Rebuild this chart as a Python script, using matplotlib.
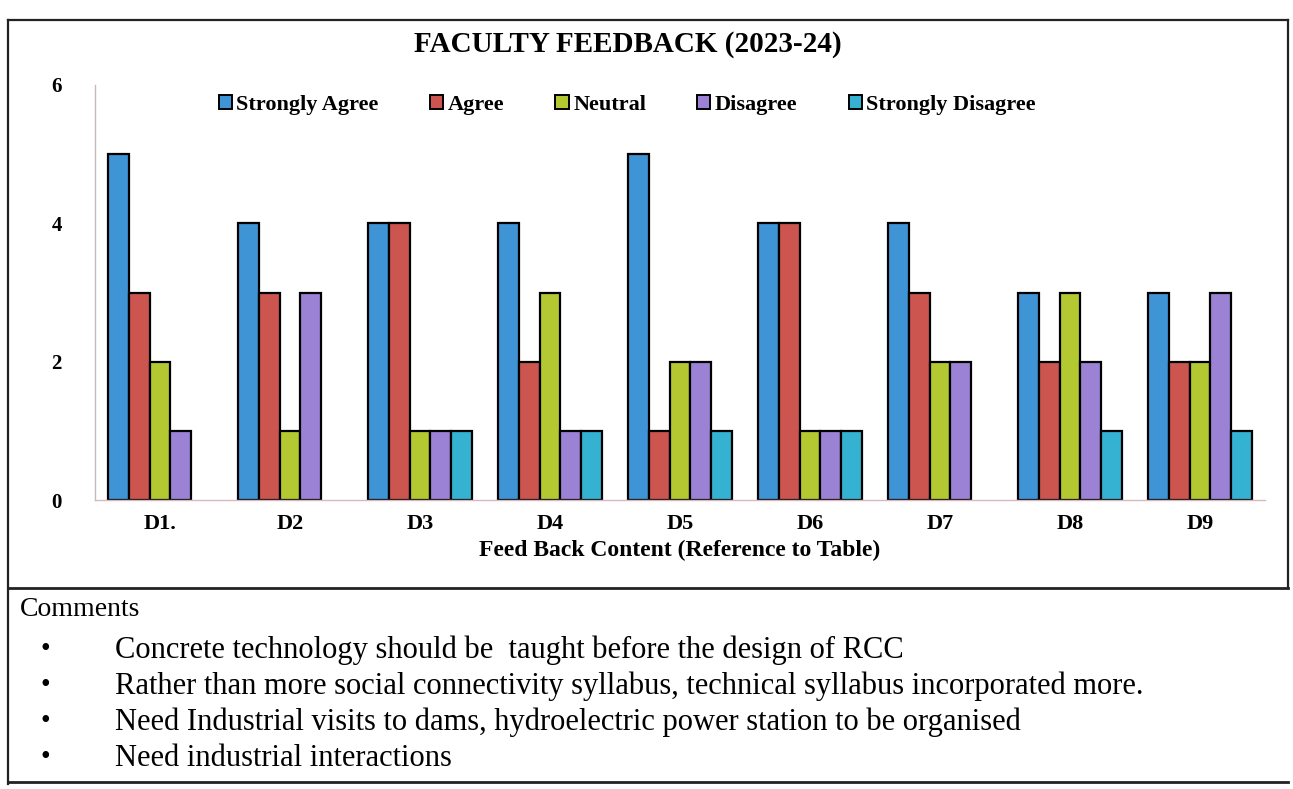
import numpy as np
import matplotlib
matplotlib.use("Agg")
import matplotlib.pyplot as plt
from matplotlib.lines import Line2D
from matplotlib.patches import Patch

# values
categories = ["D1.", "D2", "D3", "D4", "D5", "D6", "D7", "D8", "D9"]
strongly_agree = [5, 4, 4, 4, 5, 4, 4, 3, 3]
agree = [3, 3, 4, 2, 1, 4, 3, 2, 2]
neutral = [2, 1, 1, 3, 2, 1, 2, 3, 2]
disagree = [1, 3, 1, 1, 2, 1, 2, 2, 3]
strongly_disagree = [0, 0, 1, 1, 1, 1, 0, 1, 1]

series_names = ["Strongly Agree", "Agree", "Neutral", "Disagree", "Strongly Disagree"]
colors = ["#3f94d6", "#cc5550", "#b4c832", "#9b82d4", "#35b2d2"]

comments = [
    "Concrete technology should be  taught before the design of RCC",
    "Rather than more social connectivity syllabus, technical syllabus incorporated more.",
    "Need Industrial visits to dams, hydroelectric power station to be organised",
    "Need industrial interactions",
]

W, H = 1293, 789
fig = plt.figure(figsize=(W / 100, H / 100), dpi=100)
serif = "Liberation Serif"

# figure coords helper (pixels from top-left)
def fx(px):
    return px / W

def fy(py):
    return 1 - py / H

ax = fig.add_axes([fx(95), fy(500), fx(1265) - fx(95), fy(85) - fy(500)])

data = [strongly_agree, agree, neutral, disagree, strongly_disagree]
x = np.arange(len(categories))
bw = 0.16
for i, (vals, name, c) in enumerate(zip(data, series_names, colors)):
    bars = ax.bar(x + (i - 2) * bw, vals, bw, color=c, edgecolor="black",
                  linewidth=1.6)
    # zero bars leave no outline in the original
    for b, v in zip(bars, vals):
        if v == 0:
            b.set_linewidth(0)

ax.set_xlim(-0.5, len(categories) - 0.5)
ax.set_ylim(0, 6)
ax.set_yticks([0, 2, 4, 6])
ax.set_xticks(x)
ax.set_xticklabels(categories, fontfamily=serif, fontweight="bold", fontsize=16)
for t in ax.get_yticklabels():
    t.set_fontfamily(serif)
    t.set_fontweight("bold")
    t.set_fontsize(15)
ax.tick_params(axis="y", length=0, pad=24)
ax.tick_params(axis="x", length=0, pad=10)
for s in ["top", "right"]:
    ax.spines[s].set_visible(False)
ax.spines["left"].set_color("#c8b8bc")
ax.spines["bottom"].set_color("#d8b8c0")
ax.spines["left"].set_linewidth(1.0)
ax.spines["bottom"].set_linewidth(1.0)

ax.set_xlabel("Feed Back Content (Reference to Table)", fontfamily=serif,
              fontweight="bold", fontsize=17, labelpad=4)

handles = [Patch(facecolor=c, edgecolor="black", linewidth=1.4, label=n)
           for n, c in zip(series_names, colors)]
leg = ax.legend(handles=handles, loc="upper center", bbox_to_anchor=(0.455, 1.025),
                ncol=5, frameon=False, handlelength=0.6, handleheight=0.6,
                handletextpad=0.2, columnspacing=2.3,
                prop={"family": serif, "weight": "bold", "size": 16})

fig.text(fx(628), fy(45), "FACULTY FEEDBACK (2023-24)", ha="center", va="center",
         fontfamily=serif, fontweight="bold", fontsize=21)

# document box lines
def line(x0, y0, x1, y1, lw=1.6):
    fig.add_artist(Line2D([fx(x0), fx(x1)], [fy(y0), fy(y1)], color="#222222",
                          linewidth=lw, transform=fig.transFigure))

line(8, 20, 1288, 20)
line(8, 20, 8, 784)
line(1288, 20, 1288, 588)
line(8, 588, 1288, 588, lw=2.0)
line(8, 782, 1288, 782, lw=2.0)

fig.text(fx(20), fy(610), "Comments", ha="left", va="center",
         fontfamily=serif, fontsize=20)
for k, c in enumerate(comments):
    yy = 650 + k * 36
    fig.text(fx(45), fy(yy), "\u2022", ha="center", va="center",
             fontfamily=serif, fontsize=20)
    fig.text(fx(115), fy(yy), c, ha="left", va="center",
             fontfamily=serif, fontsize=22)

fig.savefig("out.png", dpi=100)
